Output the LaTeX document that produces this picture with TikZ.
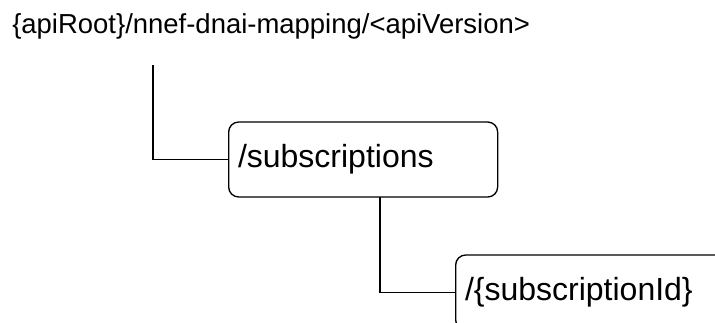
\documentclass[tikz,border=0pt]{standalone}
\usepackage{fontspec}
\setmainfont{Liberation Sans}
\usetikzlibrary{positioning,calc}
\tikzset{
  link/.style={line width=1pt},
  resbox/.style={rectangle,draw,line width=1pt,rounded corners=7.5pt,fill=white,align=left,
                 minimum height=56.25pt,inner xsep=7pt,anchor=west,font=\fontsize{24}{28}\selectfont},
  lab/.style={font=\fontsize{20.6}{24}\selectfont,inner sep=0},
}
\begin{document}
\begin{tikzpicture}[x=0.75pt,y=-0.75pt]
  \clip (0,0) rectangle (715,322);
  % resource tree: root uri, then one child per level
  \node[lab,anchor=base west] (root) at (12,33) {\{apiRoot\}/nnef-dnai-mapping/<apiVersion>};
  \node[resbox,text width=187.75pt] (subs) at (228,159.5) {/subscriptions};
  \node[resbox,text width=240pt] (subid) at (455,292.5) {/\{subscriptionId\}};
  % branches
  \coordinate (rootdrop) at (153,65);
  \coordinate (subsdrop) at (380,197);
  \draw[link] (rootdrop) |- (subs.west);
  \draw[link] (subsdrop) |- (subid.west);
\end{tikzpicture}
\end{document}
